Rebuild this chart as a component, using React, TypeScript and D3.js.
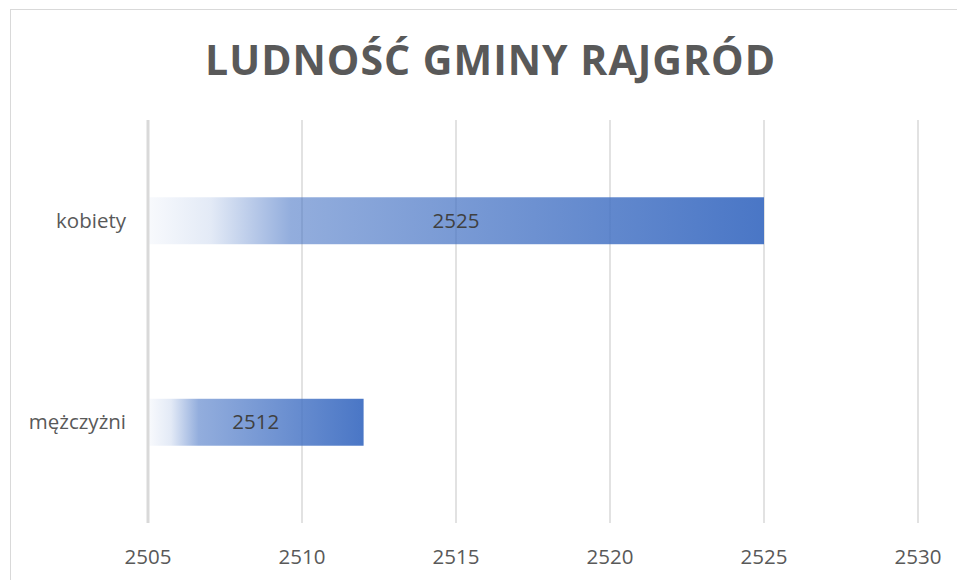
import React from "react";
import * as d3 from "d3";

const title = "LUDNOŚĆ GMINY RAJGRÓD";
const categories = ["kobiety", "mężczyżni"];
const values = [2525, 2512];
const ticks = [2505, 2510, 2515, 2520, 2525, 2530];

const W = 957;
const H = 580;
const plot = { left: 148, right: 918, top: 120, bottom: 523 };
const font = "'Open Sans', 'Noto Sans', sans-serif";

export default function App() {
  const x = d3.scaleLinear().domain([ticks[0], ticks[ticks.length - 1]]).range([plot.left, plot.right]);
  const y = d3
    .scaleBand<string>()
    .domain(categories)
    .range([plot.top, plot.bottom])
    .paddingInner(0.767)
    .paddingOuter(0.3835);

  return (
    <svg width={W} height={H} style={{ position: "absolute", left: 0, top: 0, background: "#fff" }}>
      <defs>
        <linearGradient id="barGrad" x1="0" x2="1" y1="0" y2="0">
          <stop offset="0" stopColor="#4472C4" stopOpacity={0.04} />
          <stop offset="0.1" stopColor="#4472C4" stopOpacity={0.15} />
          <stop offset="0.23" stopColor="#4472C4" stopOpacity={0.58} />
          <stop offset="1" stopColor="#4472C4" stopOpacity={0.97} />
        </linearGradient>
      </defs>
      <rect x={10.5} y={9.5} width={W + 20} height={H + 20} fill="#fff" stroke="#d9d9d9" strokeWidth={1} />
      <text
        x={490}
        y={75}
        textAnchor="middle"
        fontFamily={font}
        fontWeight={700}
        fontSize={41}
        textLength={570}
        lengthAdjust="spacing"
        fill="#595959"
      >
        {title}
      </text>
      {ticks.map((t, i) => (
        <line
          key={t}
          x1={x(t)}
          x2={x(t)}
          y1={plot.top}
          y2={plot.bottom}
          stroke="#d9d9d9"
          strokeWidth={i === 0 ? 3 : 1.5}
        />
      ))}
      {categories.map((c, i) => (
        <g key={c}>
          <rect
            x={x(ticks[0]) + 1.5}
            y={y(c)!}
            width={x(values[i]) - x(ticks[0]) - 1.5}
            height={y.bandwidth()}
            fill="url(#barGrad)"
          />
          <text
            x={(x(ticks[0]) + x(values[i])) / 2}
            y={y(c)! + y.bandwidth() / 2 + 7}
            textAnchor="middle"
            fontFamily={font}
            fontSize={20.5}
            fill="#404040"
          >
            {values[i]}
          </text>
          <text
            x={126}
            y={y(c)! + y.bandwidth() / 2 + 7}
            textAnchor="end"
            fontFamily={font}
            fontSize={20.5}
            fill="#595959"
          >
            {c}
          </text>
        </g>
      ))}
      {ticks.map((t) => (
        <text key={t} x={x(t)} y={564} textAnchor="middle" fontFamily={font} fontSize={20.5} fill="#595959">
          {t}
        </text>
      ))}
    </svg>
  );
}
